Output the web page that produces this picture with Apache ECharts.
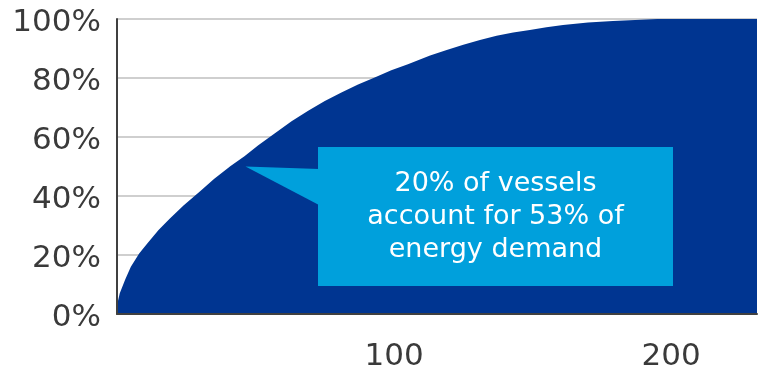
<!DOCTYPE html>
<html>
<head>
<meta charset="utf-8">
<script src="https://cdn.jsdelivr.net/npm/echarts@6/dist/echarts.min.js"></script>
<style>
  html, body { margin: 0; padding: 0; background: #ffffff; }
  #chart { width: 763px; height: 375px; }
</style>
</head>
<body>
<div id="chart"></div>
<script>
// Cumulative share of fleet energy demand, vessels ranked from largest consumer down
const vesselCount = [0, 1, 3, 5, 8, 11, 15, 19, 24, 30, 35, 41, 46, 51, 57, 63, 69, 75, 81, 87, 93, 99, 105, 113, 119, 125, 131, 137, 143, 149, 155, 161, 170, 179, 187, 195, 231];
const cumulativeShare = [3, 7, 11.8, 16, 20.5, 24, 28.5, 32.3, 36.8, 41.6, 45.8, 50.2, 53.5, 57.2, 61.3, 65.3, 68.9, 72.2, 75.1, 77.8, 80.2, 82.6, 84.7, 87.6, 89.5, 91.3, 92.9, 94.3, 95.4, 96.3, 97.2, 98, 98.8, 99.3, 99.7, 100, 100];
const yTicks = [0, 20, 40, 60, 80, 100];
const xTicks = [100, 200];
const calloutLines = ['20% of vessels', 'account for 53% of', 'energy demand'];

const points = vesselCount.map((v, i) => [v, cumulativeShare[i]]);

const chart = echarts.init(document.getElementById('chart'), null, { renderer: 'canvas' });

const axisFont = 'DejaVu Sans, Verdana, sans-serif';
const xMin = 0, xMax = 231;
const yMin = yTicks[0], yMax = yTicks[yTicks.length - 1];

chart.setOption({
  animation: false,
  backgroundColor: '#ffffff',
  grid: { left: 117, right: 6, top: 18, bottom: 61, containLabel: false },
  xAxis: [
    {
      // scale + labels (beneath the area)
      type: 'value',
      min: xMin,
      max: xMax,
      interval: 100,
      axisLine: { show: false },
      axisTick: { show: false },
      splitLine: { show: false },
      axisLabel: {
        showMinLabel: false,
        showMaxLabel: false,
        margin: 27,
        fontSize: 31,
        fontFamily: axisFont,
        color: '#3a3a3a',
        formatter: v => (xTicks.indexOf(v) >= 0 ? String(v) : '')
      },
      z: 0
    },
    {
      // baseline drawn over the area
      type: 'value',
      min: xMin,
      max: xMax,
      position: 'bottom',
      axisLine: { show: true, onZero: false, lineStyle: { color: '#404040', width: 2 } },
      axisTick: { show: false },
      splitLine: { show: false },
      axisLabel: { show: false },
      z: 10
    }
  ],
  yAxis: [
    {
      // gridlines + labels (beneath the area)
      type: 'value',
      min: yMin,
      max: yMax,
      interval: 20,
      axisLine: { show: false },
      axisTick: { show: false },
      splitLine: { show: true, lineStyle: { color: '#bfbfbf', width: 1.5 } },
      axisLabel: {
        margin: 16,
        color: '#3a3a3a',
        formatter: v => '{t|' + v + '%}',
        rich: {
          t: {
            fontSize: 31,
            fontFamily: axisFont,
            color: '#3a3a3a',
            lineHeight: 31,
            padding: [7, 0, 0, 0]
          }
        }
      },
      z: 0
    },
    {
      // left axis line drawn over the area
      type: 'value',
      min: yMin,
      max: yMax,
      position: 'left',
      axisLine: { show: true, onZero: false, lineStyle: { color: '#404040', width: 2 } },
      axisTick: { show: false },
      splitLine: { show: false },
      axisLabel: { show: false },
      z: 10
    }
  ],
  series: [{
    type: 'line',
    xAxisIndex: 0,
    yAxisIndex: 0,
    data: points,
    smooth: false,
    showSymbol: false,
    lineStyle: { width: 0, color: '#003591' },
    areaStyle: { color: '#003591', opacity: 1 },
    z: 5
  }],
  graphic: [
    {
      type: 'polygon',
      z: 20,
      shape: { points: [[245.5, 166.5], [319, 169], [319, 205]] },
      style: { fill: '#00a0dc' }
    },
    {
      type: 'rect',
      z: 20,
      shape: { x: 318, y: 147, width: 355, height: 139 },
      style: { fill: '#00a0dc' }
    },
    {
      type: 'text',
      z: 21,
      x: 495.5,
      y: 217,
      style: {
        text: calloutLines.join('\n'),
        fill: '#ffffff',
        font: '27px DejaVu Sans, Verdana, sans-serif',
        lineHeight: 33,
        align: 'center',
        verticalAlign: 'middle'
      }
    }
  ]
});
</script>
</body>
</html>
